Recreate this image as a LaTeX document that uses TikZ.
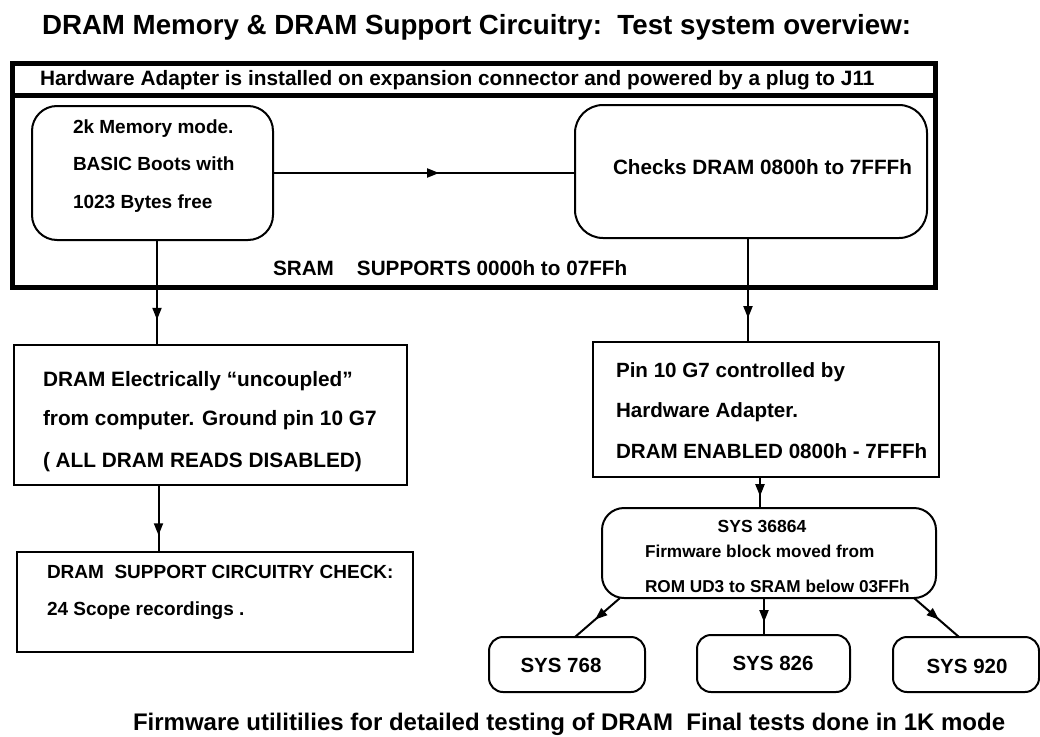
\documentclass[tikz,border=0pt]{standalone}
\usepackage{fontspec}
\setmainfont{Liberation Sans}
\usetikzlibrary{arrows.meta,decorations.markings,calc}
\begin{document}
\begin{tikzpicture}[x=1pt,y=-1pt,
  box/.style={draw, line width=2pt, inner sep=0pt, outer sep=0pt},
  rbox/.style={box, rounded corners=#1},
  thickbox/.style={draw, line width=4.5pt, inner sep=0pt, outer sep=0pt},
  conn/.style={line width=2pt},
  midarrow/.style={postaction={decorate}, decoration={markings,
      mark=at position #1 with {\arrow{Triangle[length=12pt,width=9pt]}}}},
  txt/.style={anchor=base west, inner sep=0pt, outer sep=0pt, font=\bfseries\fontsize{#1}{#1}\selectfont},
  ctxt/.style={anchor=base, inner sep=0pt, outer sep=0pt, font=\bfseries\fontsize{#1}{#1}\selectfont}
]
\useasboundingbox (0,0) rectangle (1040,736);

% title
\node[txt=27.7] (title) at (42,34) {DRAM Memory \& DRAM Support Circuitry:\ \ Test system overview:};

% outer frame
\node[thickbox, minimum width=923pt, minimum height=32pt] (hdr) at (474,79.5) {};
\node[thickbox, minimum width=923pt, minimum height=192pt] (body) at (474,191.5) {};
\node[txt=20.8] (hdrt) at (40,85) {Hardware Adapter is installed on expansion connector and powered by a plug to J11};
\node[txt=20.7] (sram) at (273,275) {SRAM\hspace{23pt}SUPPORTS 0000h to 07FFh};

% top rounded boxes
\node[rbox=25pt, minimum width=241pt, minimum height=134pt] (lb) at (152.5,173) {};
\node[txt=19] (lb1) at (73,133) {2k Memory mode.};
\node[txt=19] (lb2) at (73,170) {BASIC Boots with};
\node[txt=19] (lb3) at (73,208) {1023 Bytes free};

\node[rbox=28pt, minimum width=352pt, minimum height=133pt] (rb) at (751,171.5) {};
\node[txt=20.7] (rbt) at (613,174) {Checks DRAM 0800h to 7FFFh};

% left column
\node[box, minimum width=393pt, minimum height=140pt] (d1) at (210.5,415) {};
\node[txt=20.8] (d1a) at (43,386) {DRAM Electrically “uncoupled”};
\node[txt=20.8] (d1b) at (43,425) {from computer. Ground pin 10 G7};
\node[txt=20.8] (d1c) at (43,467) {( ALL DRAM READS DISABLED)};

\node[box, minimum width=396pt, minimum height=100pt] (d2) at (215,602) {};
\node[txt=19] (d2a) at (47,578) {DRAM\ \ SUPPORT CIRCUITRY CHECK:};
\node[txt=19] (d2b) at (47,615) {24 Scope recordings .};

% right column
\node[box, minimum width=346pt, minimum height=135pt] (p) at (766,409.5) {};
\node[txt=20.6] (pa) at (616,377) {Pin 10 G7 controlled by};
\node[txt=20.6] (pb) at (616,417) {Hardware Adapter.};
\node[txt=20.6] (pc) at (616,458) {DRAM ENABLED 0800h - 7FFFh};

\node[rbox=22pt, minimum width=334pt, minimum height=90pt] (s) at (769,553) {};
\node[ctxt=17.5] (sa) at (762,532) {SYS 36864};
\node[txt=17.2] (sb) at (645,557) {Firmware block moved from};
\node[txt=17.2] (sc) at (645,592) {ROM UD3 to SRAM below 03FFh};

\node[rbox=14pt, minimum width=156pt, minimum height=55pt] (a) at (567,664.5) {};
\node[ctxt=20.5] (at) at (561,672) {SYS 768};
\node[rbox=14pt, minimum width=153pt, minimum height=57pt] (b) at (773.5,663.5) {};
\node[ctxt=20.5] (bt) at (773,670) {SYS 826};
\node[rbox=14pt, minimum width=146pt, minimum height=55pt] (c) at (966,664.5) {};
\node[ctxt=20.5] (ct) at (967,673) {SYS 920};

% bottom caption
\node[txt=24] (cap) at (133,730) {Firmware utilitilies for detailed testing of DRAM\ \ Final tests done in 1K mode};

% connectors
\draw[conn, midarrow=0.55] (lb.east) -- (lb.east -| rb.west);
\draw[conn, midarrow=0.76] ([xshift=4.5pt]lb.south) -- ([xshift=4.5pt]lb.south |- d1.north);
\draw[conn, midarrow=0.77] ([xshift=-3pt]rb.south) -- ([xshift=-3pt]rb.south |- p.north);
\draw[conn, midarrow=0.75] ([xshift=-52pt]d1.south) -- ([xshift=-52pt]d1.south |- d2.north);
\draw[conn, midarrow=0.62] ([xshift=-6pt]p.south) -- ([xshift=-6pt]p.south |- s.north);
\draw[conn, midarrow=0.55] ([xshift=18pt]s.south west) -- ([xshift=86pt]a.north west);
\draw[conn, midarrow=0.65] ([xshift=-5pt]s.south) -- ([xshift=-5pt]s.south |- b.north);
\draw[conn, midarrow=0.55] ([xshift=-22pt]s.south east) -- ([xshift=66pt]c.north west);
\end{tikzpicture}
\end{document}
